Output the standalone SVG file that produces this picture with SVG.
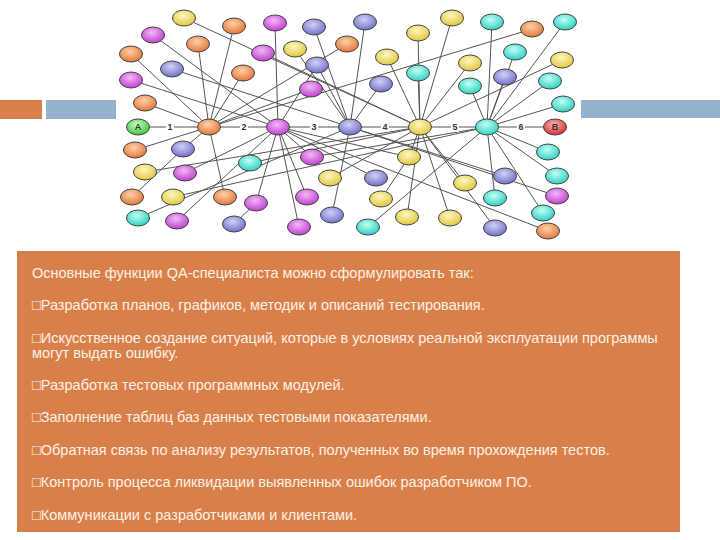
<svg xmlns="http://www.w3.org/2000/svg" width="720" height="540" viewBox="0 0 720 540">
<defs>
<radialGradient id="go" cx="45%" cy="35%" r="65%"><stop offset="0" stop-color="#ffd0a8"/><stop offset="1" stop-color="#e07838"/></radialGradient>
<radialGradient id="gp" cx="45%" cy="35%" r="65%"><stop offset="0" stop-color="#f3b8f8"/><stop offset="1" stop-color="#c040d0"/></radialGradient>
<radialGradient id="gb" cx="45%" cy="35%" r="65%"><stop offset="0" stop-color="#d0d0f8"/><stop offset="1" stop-color="#7070c8"/></radialGradient>
<radialGradient id="gy" cx="45%" cy="35%" r="65%"><stop offset="0" stop-color="#fff6c0"/><stop offset="1" stop-color="#e0c840"/></radialGradient>
<radialGradient id="gt" cx="45%" cy="35%" r="65%"><stop offset="0" stop-color="#c0fff4"/><stop offset="1" stop-color="#30d0c0"/></radialGradient>
<radialGradient id="gg" cx="45%" cy="35%" r="65%"><stop offset="0" stop-color="#c8ffc0"/><stop offset="1" stop-color="#40c040"/></radialGradient>
<radialGradient id="gr" cx="45%" cy="35%" r="65%"><stop offset="0" stop-color="#ffb0b0"/><stop offset="1" stop-color="#d03030"/></radialGradient>
</defs>
<style>
ellipse{stroke:#444;stroke-width:1;rx:11.5px;ry:8px}
.o{fill:url(#go)}.p{fill:url(#gp)}.b{fill:url(#gb)}.y{fill:url(#gy)}.t{fill:url(#gt)}.g{fill:url(#gg)}.r{fill:url(#gr)}
#edges line{stroke:#555;stroke-width:1}
.n{font-family:"Liberation Sans",Arial,sans-serif;font-size:9px;font-weight:bold;fill:#333;text-anchor:middle}
.tx{font-family:"Liberation Sans",Arial,sans-serif;font-size:14.5px;fill:#fdf0e6}
</style>
<rect x="0" y="100" width="42" height="19" fill="#d9804a"/>
<rect x="46" y="100" width="70" height="19" fill="#93b2cd"/>
<rect x="581" y="100" width="139" height="18" fill="#93b2cd"/>
<g id="edges">
<line x1="138" y1="127" x2="555" y2="127" stroke-width="1.5"/>
<line x1="184" y1="18" x2="420" y2="127"/><line x1="234" y1="26" x2="209" y2="127"/><line x1="275" y1="23" x2="278" y2="127"/>
<line x1="314" y1="27" x2="350" y2="127"/><line x1="365" y1="22" x2="350" y2="127"/><line x1="452" y1="18" x2="420" y2="127"/>
<line x1="492" y1="22" x2="487" y2="127"/><line x1="565" y1="22" x2="487" y2="127"/><line x1="532" y1="29" x2="209" y2="127"/>
<line x1="418" y1="33" x2="420" y2="127"/><line x1="153" y1="35" x2="278" y2="127"/><line x1="198" y1="44" x2="209" y2="127"/>
<line x1="263" y1="53" x2="420" y2="127"/><line x1="295" y1="49" x2="350" y2="127"/><line x1="347" y1="44" x2="209" y2="127"/>
<line x1="317" y1="65" x2="350" y2="127"/><line x1="317" y1="65" x2="278" y2="127"/><line x1="387" y1="57" x2="420" y2="127"/>
<line x1="515" y1="52" x2="487" y2="127"/><line x1="562" y1="60" x2="420" y2="127"/><line x1="131" y1="54" x2="209" y2="127"/>
<line x1="172" y1="69" x2="350" y2="127"/><line x1="243" y1="73" x2="209" y2="127"/><line x1="418" y1="73" x2="420" y2="127"/>
<line x1="470" y1="63" x2="420" y2="127"/><line x1="505" y1="77" x2="487" y2="127"/><line x1="470" y1="86" x2="487" y2="127"/>
<line x1="131" y1="80" x2="278" y2="127"/><line x1="311" y1="89" x2="209" y2="127"/><line x1="381" y1="84" x2="350" y2="127"/>
<line x1="550" y1="81" x2="487" y2="127"/><line x1="145" y1="103" x2="209" y2="127"/><line x1="563" y1="104" x2="487" y2="127"/>
<line x1="135" y1="150" x2="209" y2="127"/><line x1="183" y1="149" x2="209" y2="127"/><line x1="183" y1="149" x2="132" y2="197"/>
<line x1="312" y1="157" x2="278" y2="127"/><line x1="312" y1="157" x2="487" y2="127"/><line x1="409" y1="157" x2="420" y2="127"/>
<line x1="409" y1="157" x2="278" y2="127"/><line x1="548" y1="152" x2="487" y2="127"/><line x1="145" y1="172" x2="420" y2="127"/>
<line x1="185" y1="173" x2="278" y2="127"/><line x1="250" y1="163" x2="420" y2="127"/><line x1="330" y1="178" x2="420" y2="127"/>
<line x1="376" y1="178" x2="278" y2="127"/><line x1="465" y1="183" x2="420" y2="127"/><line x1="505" y1="176" x2="350" y2="127"/>
<line x1="557" y1="176" x2="487" y2="127"/><line x1="173" y1="197" x2="487" y2="127"/><line x1="225" y1="197" x2="209" y2="127"/>
<line x1="256" y1="203" x2="278" y2="127"/><line x1="307" y1="197" x2="278" y2="127"/><line x1="381" y1="199" x2="409" y2="157"/>
<line x1="495" y1="198" x2="487" y2="127"/><line x1="557" y1="196" x2="350" y2="127"/><line x1="138" y1="218" x2="350" y2="127"/>
<line x1="177" y1="221" x2="278" y2="127"/><line x1="234" y1="224" x2="256" y2="203"/><line x1="299" y1="227" x2="278" y2="127"/>
<line x1="332" y1="215" x2="350" y2="127"/><line x1="368" y1="227" x2="487" y2="127"/><line x1="407" y1="217" x2="420" y2="127"/>
<line x1="450" y1="218" x2="420" y2="127"/><line x1="495" y1="228" x2="420" y2="127"/><line x1="543" y1="213" x2="487" y2="127"/>
<line x1="548" y1="231" x2="278" y2="127"/>
</g>
<g id="edge-labels" fill="#fff">
<rect x="166" y="121" width="8" height="11"/><rect x="240" y="121" width="8" height="11"/><rect x="310" y="121" width="8" height="11"/>
<rect x="381" y="121" width="8" height="11"/><rect x="451" y="121" width="8" height="11"/><rect x="517" y="121" width="8" height="11"/>
<text class="n" x="170" y="130">1</text><text class="n" x="244" y="130">2</text><text class="n" x="314" y="130">3</text>
<text class="n" x="385" y="130">4</text><text class="n" x="455" y="130">5</text><text class="n" x="521" y="130">6</text>
</g>
<g id="nodes">
<g id="A"><ellipse class="g" cx="138" cy="127"/><text class="n" x="138" y="130">A</text></g>
<g id="B"><ellipse class="r" cx="555" cy="127"/><text class="n" x="555" y="130" fill="#fff">B</text></g>
<g id="h1"><ellipse class="o" cx="209" cy="127" rx="12"/></g>
<g id="h2"><ellipse class="p" cx="278" cy="127"/></g>
<g id="h3"><ellipse class="b" cx="350" cy="127"/></g>
<g id="h4"><ellipse class="y" cx="420" cy="127"/></g>
<g id="h5"><ellipse class="t" cx="487" cy="127"/></g>
<g id="n1"><ellipse class="y" cx="184" cy="18"/></g><g id="n2"><ellipse class="o" cx="234" cy="26"/></g>
<g id="n3"><ellipse class="p" cx="275" cy="23"/></g><g id="n4"><ellipse class="b" cx="314" cy="27"/></g>
<g id="n5"><ellipse class="b" cx="365" cy="22"/></g><g id="n6"><ellipse class="y" cx="452" cy="18"/></g>
<g id="n7"><ellipse class="t" cx="492" cy="22"/></g><g id="n8"><ellipse class="t" cx="565" cy="22"/></g>
<g id="n9"><ellipse class="o" cx="532" cy="29"/></g><g id="n10"><ellipse class="y" cx="418" cy="33"/></g>
<g id="n11"><ellipse class="p" cx="153" cy="35"/></g><g id="n12"><ellipse class="o" cx="198" cy="44"/></g>
<g id="n13"><ellipse class="p" cx="263" cy="53"/></g><g id="n14"><ellipse class="y" cx="295" cy="49"/></g>
<g id="n15"><ellipse class="o" cx="347" cy="44"/></g><g id="n16"><ellipse class="b" cx="317" cy="65"/></g>
<g id="n17"><ellipse class="y" cx="387" cy="57"/></g><g id="n18"><ellipse class="t" cx="515" cy="52"/></g>
<g id="n19"><ellipse class="y" cx="562" cy="60"/></g><g id="n20"><ellipse class="o" cx="131" cy="54"/></g>
<g id="n21"><ellipse class="b" cx="172" cy="69"/></g><g id="n22"><ellipse class="o" cx="243" cy="73"/></g>
<g id="n23"><ellipse class="t" cx="418" cy="73"/></g><g id="n24"><ellipse class="y" cx="470" cy="63"/></g>
<g id="n25"><ellipse class="b" cx="505" cy="77"/></g><g id="n26"><ellipse class="t" cx="470" cy="86"/></g>
<g id="n27"><ellipse class="p" cx="131" cy="80"/></g><g id="n28"><ellipse class="p" cx="311" cy="89"/></g>
<g id="n29"><ellipse class="b" cx="381" cy="84"/></g><g id="n30"><ellipse class="t" cx="550" cy="81"/></g>
<g id="n31"><ellipse class="o" cx="145" cy="103"/></g><g id="n32"><ellipse class="t" cx="563" cy="104"/></g>
<g id="n33"><ellipse class="o" cx="135" cy="150"/></g><g id="n34"><ellipse class="b" cx="183" cy="149"/></g>
<g id="n35"><ellipse class="p" cx="312" cy="157"/></g><g id="n36"><ellipse class="y" cx="409" cy="157"/></g>
<g id="n37"><ellipse class="t" cx="548" cy="152"/></g><g id="n38"><ellipse class="y" cx="145" cy="172"/></g>
<g id="n39"><ellipse class="p" cx="185" cy="173"/></g><g id="n40"><ellipse class="t" cx="250" cy="163"/></g>
<g id="n41"><ellipse class="y" cx="330" cy="178"/></g><g id="n42"><ellipse class="b" cx="376" cy="178"/></g>
<g id="n43"><ellipse class="y" cx="465" cy="183"/></g><g id="n44"><ellipse class="b" cx="505" cy="176"/></g>
<g id="n45"><ellipse class="t" cx="557" cy="176"/></g><g id="n46"><ellipse class="o" cx="132" cy="197"/></g>
<g id="n47"><ellipse class="y" cx="173" cy="197"/></g><g id="n48"><ellipse class="o" cx="225" cy="197"/></g>
<g id="n49"><ellipse class="p" cx="256" cy="203"/></g><g id="n50"><ellipse class="p" cx="307" cy="197"/></g>
<g id="n51"><ellipse class="y" cx="381" cy="199"/></g><g id="n52"><ellipse class="t" cx="495" cy="198"/></g>
<g id="n53"><ellipse class="p" cx="557" cy="196"/></g><g id="n54"><ellipse class="t" cx="138" cy="218"/></g>
<g id="n55"><ellipse class="p" cx="177" cy="221"/></g><g id="n56"><ellipse class="b" cx="234" cy="224"/></g>
<g id="n57"><ellipse class="p" cx="299" cy="227"/></g><g id="n58"><ellipse class="b" cx="332" cy="215"/></g>
<g id="n59"><ellipse class="t" cx="368" cy="227"/></g><g id="n60"><ellipse class="y" cx="407" cy="217"/></g>
<g id="n61"><ellipse class="y" cx="450" cy="218"/></g><g id="n62"><ellipse class="b" cx="495" cy="228"/></g>
<g id="n63"><ellipse class="t" cx="543" cy="213"/></g><g id="n64"><ellipse class="o" cx="548" cy="231"/></g>
</g>
<g id="textbox">
<rect x="17" y="251" width="663" height="281" fill="#d9804a"/>
<text class="tx" x="32" y="278">Основные функции QA-специалиста можно сформулировать так:</text>
<text class="tx" x="32" y="310">□Разработка планов, графиков, методик и описаний тестирования.</text>
<text class="tx" x="32" y="343">□Искусственное создание ситуаций, которые в условиях реальной эксплуатации программы</text>
<text class="tx" x="32" y="358">могут выдать ошибку.</text>
<text class="tx" x="32" y="390">□Разработка тестовых программных модулей.</text>
<text class="tx" x="32" y="422">□Заполнение таблиц баз данных тестовыми показателями.</text>
<text class="tx" x="32" y="455">□Обратная связь по анализу результатов, полученных во время прохождения тестов.</text>
<text class="tx" x="32" y="487">□Контроль процесса ликвидации выявленных ошибок разработчиком ПО.</text>
<text class="tx" x="32" y="520">□Коммуникации с разработчиками и клиентами.</text>
</g>
</svg>
